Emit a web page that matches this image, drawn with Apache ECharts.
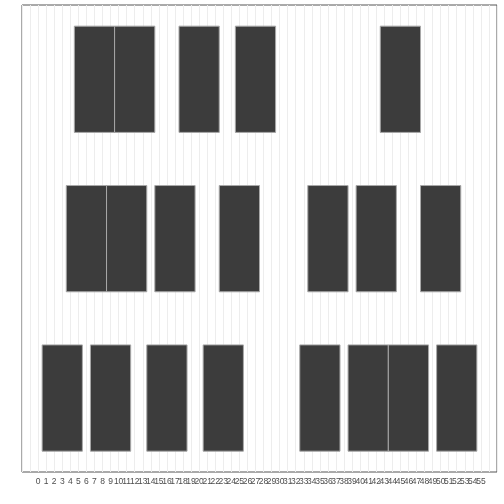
<!DOCTYPE html>
<html>
<head>
<meta charset="utf-8">
<script src="https://cdn.jsdelivr.net/npm/echarts@6/dist/echarts.min.js"></script>
<style>html,body{margin:0;padding:0;background:#fff;}#c{width:504px;height:504px;}</style>
</head>
<body>
<div id="c"></div>
<script>
// x tick labels
var tickLabels = [];
for (var i = 0; i <= 55; i++) tickLabels.push(String(i));
// rows (1 = top, 3 = bottom)
var rows = [1, 2, 3];
// block start / end positions (x units) per row
var row1Start = [4.5, 9.5, 17.5, 24.5, 42.5];
var row1End   = [9.5, 14.5, 22.5, 29.5, 47.5];
var row2Start = [3.5, 8.5, 14.5, 22.5, 33.5, 39.5, 47.5];
var row2End   = [8.5, 13.5, 19.5, 27.5, 38.5, 44.5, 52.5];
var row3Start = [0.5, 6.5, 13.5, 20.5, 32.5, 38.5, 43.5, 49.5];
var row3End   = [5.5, 11.5, 18.5, 25.5, 37.5, 43.5, 48.5, 54.5];
var blockHalfHeight = 1 / 3;

var starts = [row1Start, row2Start, row3Start];
var ends = [row1End, row2End, row3End];
var data = [];
rows.forEach(function (r, ri) {
  starts[ri].forEach(function (s, k) {
    data.push([s, ends[ri][k], r]);
  });
});

var chart = echarts.init(document.getElementById('c'));
chart.setOption({
  backgroundColor: '#ffffff',
  animation: false,
  grid: { left: 22, right: 7, top: 5, bottom: 32, show: true, borderColor: '#555555', borderWidth: 1, backgroundColor: '#ffffff' },
  xAxis: [{
    type: 'value', min: -2, max: 57, interval: 1,
    axisLine: { show: false }, axisTick: { show: false },
    splitLine: { show: false },
    axisLabel: {
      color: '#4d4d4d', fontSize: 8.5, fontFamily: 'Liberation Sans, Arial, sans-serif', margin: 5,
      showMinLabel: true, showMaxLabel: true,
      formatter: function (v) {
        var idx = Math.round(v);
        return (idx >= 0 && idx < tickLabels.length) ? tickLabels[idx] : '';
      }
    }
  }, {
    type: 'value', min: -1.5, max: 57.5, interval: 1, position: 'bottom',
    axisLine: { show: false }, axisTick: { show: false }, axisLabel: { show: false },
    splitLine: { show: true, lineStyle: { color: '#ededed', width: 1 } }
  }],
  yAxis: {
    type: 'value', inverse: true, min: 0.534, max: 3.464,
    axisLine: { show: false }, axisTick: { show: false }, axisLabel: { show: false },
    splitLine: { show: false }
  },
  series: [{
    type: 'custom',
    xAxisIndex: 0,
    data: data,
    renderItem: function (params, api) {
      var p0 = api.coord([api.value(0), api.value(2) - blockHalfHeight]);
      var p1 = api.coord([api.value(1), api.value(2) + blockHalfHeight]);
      return {
        type: 'rect',
        shape: { x: p0[0], y: p0[1], width: p1[0] - p0[0], height: p1[1] - p0[1] },
        style: { fill: '#3c3c3c', stroke: '#a8a8a8', lineWidth: 1 }
      };
    }
  }]
});
</script>
</body>
</html>
